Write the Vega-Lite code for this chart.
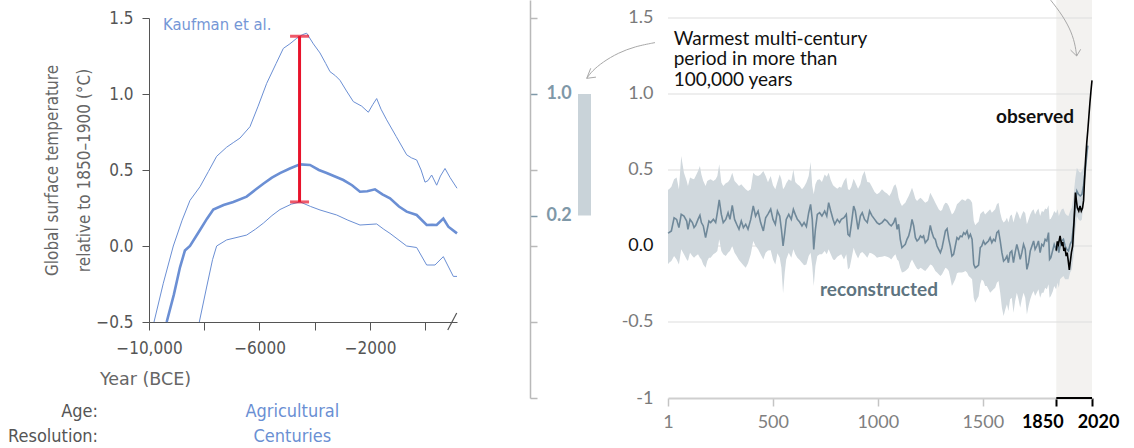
{
"$schema": "https://vega.github.io/schema/vega-lite/v6.json",
"width": 1134, "height": 448,
"autosize": {"type": "none"},
"padding": 0,
"background": "white",
"config": {"view": {"stroke": null}, "axis": {"grid": false}},
"datasets": {
"upper": [{"yr":-9819,"t":-0.5},{"yr":-9482,"t":-0.245},{"yr":-9120,"t":0.0},{"yr":-8800,"t":0.17},{"yr":-8516,"t":0.30},{"yr":-8154,"t":0.39},{"yr":-7850,"t":0.49},{"yr":-7551,"t":0.59},{"yr":-7189,"t":0.65},{"yr":-6950,"t":0.68},{"yr":-6706,"t":0.71},{"yr":-6344,"t":0.785},{"yr":-6050,"t":0.92},{"yr":-5740,"t":1.07},{"yr":-5400,"t":1.2},{"yr":-5137,"t":1.30},{"yr":-4900,"t":1.33},{"yr":-4655,"t":1.366},{"yr":-4450,"t":1.39},{"yr":-4293,"t":1.40},{"yr":-4050,"t":1.33},{"yr":-3810,"t":1.27},{"yr":-3600,"t":1.2},{"yr":-3448,"t":1.147},{"yr":-3250,"t":1.12},{"yr":-3086,"t":1.09},{"yr":-2850,"t":1.02},{"yr":-2603,"t":0.95},{"yr":-2300,"t":0.92},{"yr":-2060,"t":0.88},{"yr":-1900,"t":0.93},{"yr":-1758,"t":0.97},{"yr":-1600,"t":0.9},{"yr":-1396,"t":0.83},{"yr":-1050,"t":0.72},{"yr":-672,"t":0.60},{"yr":-500,"t":0.58},{"yr":-310,"t":0.566},{"yr":-150,"t":0.5},{"yr":-8,"t":0.42},{"yr":100,"t":0.43},{"yr":233,"t":0.467},{"yr":414,"t":0.40},{"yr":550,"t":0.46},{"yr":716,"t":0.51},{"yr":900,"t":0.45},{"yr":1150,"t":0.38}],
"mean": [{"yr":-9360,"t":-0.5},{"yr":-9100,"t":-0.32},{"yr":-8878,"t":-0.14},{"yr":-8700,"t":-0.03},{"yr":-8516,"t":0.0},{"yr":-8154,"t":0.105},{"yr":-7900,"t":0.18},{"yr":-7672,"t":0.24},{"yr":-7300,"t":0.27},{"yr":-6948,"t":0.29},{"yr":-6465,"t":0.325},{"yr":-6150,"t":0.37},{"yr":-5862,"t":0.41},{"yr":-5550,"t":0.45},{"yr":-5258,"t":0.48},{"yr":-4900,"t":0.51},{"yr":-4534,"t":0.537},{"yr":-4172,"t":0.533},{"yr":-3850,"t":0.5},{"yr":-3568,"t":0.48},{"yr":-2965,"t":0.434},{"yr":-2650,"t":0.4},{"yr":-2362,"t":0.357},{"yr":-2100,"t":0.36},{"yr":-1819,"t":0.373},{"yr":-1550,"t":0.34},{"yr":-1276,"t":0.314},{"yr":-950,"t":0.26},{"yr":-672,"t":0.226},{"yr":-310,"t":0.204},{"yr":52,"t":0.138},{"yr":250,"t":0.14},{"yr":414,"t":0.138},{"yr":655,"t":0.18},{"yr":836,"t":0.127},{"yr":1150,"t":0.083}],
"lower": [{"yr":-8179,"t":-0.5},{"yr":-7913,"t":-0.27},{"yr":-7700,"t":-0.09},{"yr":-7551,"t":0.0},{"yr":-7189,"t":0.04},{"yr":-6465,"t":0.072},{"yr":-6150,"t":0.11},{"yr":-5862,"t":0.15},{"yr":-5550,"t":0.2},{"yr":-5258,"t":0.24},{"yr":-4850,"t":0.275},{"yr":-4534,"t":0.29},{"yr":-4150,"t":0.26},{"yr":-3810,"t":0.237},{"yr":-3206,"t":0.204},{"yr":-2800,"t":0.17},{"yr":-2362,"t":0.138},{"yr":-1758,"t":0.145},{"yr":-1500,"t":0.11},{"yr":-1276,"t":0.083},{"yr":-672,"t":0.0},{"yr":-310,"t":-0.01},{"yr":52,"t":-0.125},{"yr":353,"t":-0.125},{"yr":655,"t":-0.07},{"yr":1017,"t":-0.2},{"yr":1150,"t":-0.2}],
"recon": [{"yr":1,"m":0.085,"lo":-0.12,"hi":0.37},{"yr":6,"m":0.088,"lo":-0.110,"hi":0.373},{"yr":17,"m":0.099,"lo":-0.099,"hi":0.390},{"yr":30,"m":0.186,"lo":-0.066,"hi":0.439},{"yr":42,"m":0.175,"lo":-0.088,"hi":0.450},{"yr":53,"m":0.121,"lo":-0.121,"hi":0.373},{"yr":64,"m":0.208,"lo":-0.022,"hi":0.592},{"yr":77,"m":0.197,"lo":-0.055,"hi":0.482},{"yr":90,"m":0.164,"lo":-0.088,"hi":0.428},{"yr":96,"m":0.110,"lo":-0.099,"hi":0.395},{"yr":106,"m":0.175,"lo":-0.044,"hi":0.450},{"yr":117,"m":0.154,"lo":-0.066,"hi":0.443},{"yr":125,"m":0.121,"lo":-0.077,"hi":0.439},{"yr":133,"m":0.136,"lo":-0.066,"hi":0.461},{"yr":144,"m":0.175,"lo":-0.055,"hi":0.493},{"yr":153,"m":0.202,"lo":-0.077,"hi":0.526},{"yr":160,"m":0.154,"lo":-0.088,"hi":0.471},{"yr":169,"m":0.132,"lo":-0.121,"hi":0.428},{"yr":180,"m":0.055,"lo":-0.143,"hi":0.395},{"yr":188,"m":0.110,"lo":-0.099,"hi":0.428},{"yr":196,"m":0.164,"lo":-0.077,"hi":0.434},{"yr":204,"m":0.154,"lo":-0.077,"hi":0.439},{"yr":217,"m":0.175,"lo":-0.055,"hi":0.428},{"yr":228,"m":0.154,"lo":-0.044,"hi":0.439},{"yr":236,"m":0.219,"lo":-0.033,"hi":0.461},{"yr":245,"m":0.303,"lo":0.044,"hi":0.537},{"yr":255,"m":0.208,"lo":-0.033,"hi":0.417},{"yr":264,"m":0.154,"lo":-0.055,"hi":0.395},{"yr":276,"m":0.175,"lo":-0.066,"hi":0.412},{"yr":287,"m":0.219,"lo":-0.044,"hi":0.421},{"yr":296,"m":0.175,"lo":-0.033,"hi":0.439},{"yr":307,"m":0.268,"lo":0.0,"hi":0.482},{"yr":318,"m":0.175,"lo":-0.044,"hi":0.428},{"yr":328,"m":0.143,"lo":-0.066,"hi":0.412},{"yr":339,"m":0.110,"lo":-0.092,"hi":0.395},{"yr":350,"m":0.164,"lo":-0.110,"hi":0.406},{"yr":360,"m":0.121,"lo":-0.127,"hi":0.390},{"yr":371,"m":0.143,"lo":-0.143,"hi":0.373},{"yr":382,"m":0.110,"lo":-0.114,"hi":0.362},{"yr":395,"m":0.175,"lo":-0.055,"hi":0.373},{"yr":407,"m":0.263,"lo":0.033,"hi":0.482},{"yr":418,"m":0.197,"lo":0.0,"hi":0.465},{"yr":430,"m":0.230,"lo":-0.022,"hi":0.461},{"yr":442,"m":0.154,"lo":-0.055,"hi":0.471},{"yr":455,"m":0.099,"lo":-0.088,"hi":0.493},{"yr":466,"m":0.186,"lo":-0.044,"hi":0.461},{"yr":477,"m":0.21,"lo":-0.03,"hi":0.42},{"yr":490,"m":0.243,"lo":-0.028,"hi":0.46},{"yr":501,"m":0.175,"lo":-0.088,"hi":0.399},{"yr":512,"m":0.143,"lo":-0.121,"hi":0.373},{"yr":522,"m":0.230,"lo":-0.048,"hi":0.421},{"yr":533,"m":0.197,"lo":-0.077,"hi":0.471},{"yr":541,"m":0.110,"lo":-0.143,"hi":0.439},{"yr":549,"m":0.0,"lo":-0.311,"hi":0.373},{"yr":557,"m":0.088,"lo":-0.175,"hi":0.39},{"yr":564,"m":0.175,"lo":-0.088,"hi":0.412},{"yr":576,"m":0.208,"lo":-0.044,"hi":0.439},{"yr":588,"m":0.175,"lo":-0.077,"hi":0.428},{"yr":598,"m":0.241,"lo":-0.022,"hi":0.504},{"yr":607,"m":0.208,"lo":-0.055,"hi":0.421},{"yr":617,"m":0.175,"lo":-0.077,"hi":0.406},{"yr":628,"m":0.158,"lo":-0.092,"hi":0.395},{"yr":639,"m":0.132,"lo":-0.11,"hi":0.373},{"yr":649,"m":0.154,"lo":-0.127,"hi":0.39},{"yr":660,"m":0.127,"lo":-0.121,"hi":0.417},{"yr":671,"m":0.219,"lo":-0.066,"hi":0.461},{"yr":680,"m":0.274,"lo":-0.044,"hi":0.553},{"yr":688,"m":0.175,"lo":-0.132,"hi":0.395},{"yr":695,"m":-0.022,"lo":-0.263,"hi":0.34},{"yr":703,"m":0.110,"lo":-0.132,"hi":0.406},{"yr":712,"m":0.208,"lo":-0.066,"hi":0.434},{"yr":723,"m":0.219,"lo":-0.055,"hi":0.439},{"yr":734,"m":0.197,"lo":-0.055,"hi":0.421},{"yr":747,"m":0.230,"lo":-0.033,"hi":0.471},{"yr":757,"m":0.197,"lo":-0.055,"hi":0.456},{"yr":766,"m":0.285,"lo":-0.022,"hi":0.482},{"yr":776,"m":0.230,"lo":-0.055,"hi":0.434},{"yr":787,"m":0.175,"lo":-0.088,"hi":0.399},{"yr":795,"m":0.143,"lo":-0.092,"hi":0.39},{"yr":807,"m":0.175,"lo":-0.07,"hi":0.377},{"yr":818,"m":0.154,"lo":-0.061,"hi":0.39},{"yr":826,"m":0.175,"lo":-0.055,"hi":0.384},{"yr":839,"m":0.186,"lo":-0.088,"hi":0.428},{"yr":850,"m":0.208,"lo":-0.055,"hi":0.45},{"yr":858,"m":0.077,"lo":-0.154,"hi":0.373},{"yr":866,"m":0.066,"lo":-0.143,"hi":0.368},{"yr":874,"m":0.143,"lo":-0.088,"hi":0.39},{"yr":885,"m":0.263,"lo":-0.011,"hi":0.443},{"yr":893,"m":0.230,"lo":-0.044,"hi":0.417},{"yr":906,"m":0.110,"lo":-0.083,"hi":0.377},{"yr":917,"m":0.197,"lo":-0.048,"hi":0.406},{"yr":926,"m":0.219,"lo":-0.039,"hi":0.461},{"yr":937,"m":0.175,"lo":-0.055,"hi":0.493},{"yr":950,"m":0.154,"lo":-0.077,"hi":0.421},{"yr":961,"m":0.230,"lo":-0.044,"hi":0.417},{"yr":972,"m":0.20,"lo":-0.05,"hi":0.39},{"yr":985,"m":0.175,"lo":-0.061,"hi":0.355},{"yr":996,"m":0.154,"lo":-0.077,"hi":0.34},{"yr":1007,"m":0.143,"lo":-0.072,"hi":0.351},{"yr":1020,"m":0.154,"lo":-0.07,"hi":0.373},{"yr":1033,"m":0.175,"lo":-0.066,"hi":0.355},{"yr":1044,"m":0.164,"lo":-0.07,"hi":0.346},{"yr":1055,"m":0.143,"lo":-0.077,"hi":0.329},{"yr":1064,"m":0.132,"lo":-0.088,"hi":0.351},{"yr":1076,"m":0.154,"lo":-0.066,"hi":0.395},{"yr":1084,"m":0.186,"lo":-0.055,"hi":0.406},{"yr":1092,"m":0.110,"lo":-0.088,"hi":0.373},{"yr":1099,"m":0.143,"lo":-0.099,"hi":0.318},{"yr":1107,"m":0.044,"lo":-0.143,"hi":0.285},{"yr":1115,"m":-0.011,"lo":-0.175,"hi":0.263},{"yr":1123,"m":0.0,"lo":-0.171,"hi":0.274},{"yr":1131,"m":0.011,"lo":-0.164,"hi":0.285},{"yr":1139,"m":0.044,"lo":-0.154,"hi":0.307},{"yr":1147,"m":0.066,"lo":-0.143,"hi":0.329},{"yr":1155,"m":0.110,"lo":-0.11,"hi":0.355},{"yr":1163,"m":0.175,"lo":-0.088,"hi":0.384},{"yr":1171,"m":0.132,"lo":-0.11,"hi":0.351},{"yr":1179,"m":0.055,"lo":-0.132,"hi":0.311},{"yr":1187,"m":0.033,"lo":-0.149,"hi":0.296},{"yr":1195,"m":0.044,"lo":-0.154,"hi":0.307},{"yr":1203,"m":0.066,"lo":-0.143,"hi":0.318},{"yr":1211,"m":0.055,"lo":-0.149,"hi":0.307},{"yr":1218,"m":0.066,"lo":-0.158,"hi":0.296},{"yr":1226,"m":0.022,"lo":-0.164,"hi":0.285},{"yr":1239,"m":0.044,"lo":-0.143,"hi":0.296},{"yr":1250,"m":0.136,"lo":-0.121,"hi":0.351},{"yr":1258,"m":0.088,"lo":-0.127,"hi":0.329},{"yr":1266,"m":0.055,"lo":-0.143,"hi":0.307},{"yr":1274,"m":0.044,"lo":-0.164,"hi":0.285},{"yr":1282,"m":0.0,"lo":-0.175,"hi":0.263},{"yr":1290,"m":-0.022,"lo":-0.186,"hi":0.241},{"yr":1298,"m":-0.044,"lo":-0.197,"hi":0.23},{"yr":1306,"m":-0.011,"lo":-0.186,"hi":0.237},{"yr":1314,"m":0.044,"lo":-0.164,"hi":0.268},{"yr":1322,"m":0.099,"lo":-0.143,"hi":0.285},{"yr":1330,"m":0.114,"lo":-0.149,"hi":0.281},{"yr":1338,"m":0.044,"lo":-0.164,"hi":0.263},{"yr":1345,"m":0.0,"lo":-0.208,"hi":0.237},{"yr":1353,"m":-0.066,"lo":-0.263,"hi":0.208},{"yr":1361,"m":-0.055,"lo":-0.241,"hi":0.219},{"yr":1369,"m":0.0,"lo":-0.219,"hi":0.241},{"yr":1377,"m":0.055,"lo":-0.18,"hi":0.274},{"yr":1385,"m":0.044,"lo":-0.175,"hi":0.285},{"yr":1393,"m":0.066,"lo":-0.175,"hi":0.296},{"yr":1401,"m":0.061,"lo":-0.175,"hi":0.307},{"yr":1409,"m":0.088,"lo":-0.171,"hi":0.303},{"yr":1417,"m":0.077,"lo":-0.164,"hi":0.296},{"yr":1425,"m":0.099,"lo":-0.175,"hi":0.311},{"yr":1433,"m":0.055,"lo":-0.197,"hi":0.311},{"yr":1441,"m":0.077,"lo":-0.208,"hi":0.303},{"yr":1449,"m":0.044,"lo":-0.219,"hi":0.285},{"yr":1457,"m":-0.121,"lo":-0.34,"hi":0.164},{"yr":1464,"m":-0.143,"lo":-0.373,"hi":0.136},{"yr":1472,"m":-0.135,"lo":-0.35,"hi":0.15},{"yr":1480,"m":-0.125,"lo":-0.33,"hi":0.16},{"yr":1488,"m":-0.01,"lo":-0.25,"hi":0.21},{"yr":1495,"m":0.0,"lo":-0.22,"hi":0.22},{"yr":1503,"m":0.033,"lo":-0.23,"hi":0.23},{"yr":1511,"m":0.011,"lo":-0.263,"hi":0.208},{"yr":1519,"m":0.022,"lo":-0.263,"hi":0.219},{"yr":1527,"m":0.033,"lo":-0.285,"hi":0.23},{"yr":1535,"m":0.055,"lo":-0.307,"hi":0.241},{"yr":1543,"m":0.022,"lo":-0.296,"hi":0.219},{"yr":1551,"m":0.044,"lo":-0.285,"hi":0.23},{"yr":1559,"m":0.033,"lo":-0.274,"hi":0.241},{"yr":1567,"m":0.088,"lo":-0.241,"hi":0.274},{"yr":1575,"m":0.099,"lo":-0.23,"hi":0.285},{"yr":1583,"m":0.033,"lo":-0.307,"hi":0.219},{"yr":1591,"m":-0.044,"lo":-0.406,"hi":0.175},{"yr":1599,"m":-0.099,"lo":-0.461,"hi":0.154},{"yr":1607,"m":-0.088,"lo":-0.417,"hi":0.164},{"yr":1615,"m":-0.066,"lo":-0.384,"hi":0.186},{"yr":1622,"m":-0.11,"lo":-0.428,"hi":0.154},{"yr":1630,"m":-0.044,"lo":-0.351,"hi":0.197},{"yr":1638,"m":-0.033,"lo":-0.34,"hi":0.208},{"yr":1646,"m":-0.11,"lo":-0.439,"hi":0.154},{"yr":1654,"m":-0.044,"lo":-0.362,"hi":0.197},{"yr":1662,"m":0.011,"lo":-0.307,"hi":0.23},{"yr":1670,"m":-0.033,"lo":-0.351,"hi":0.208},{"yr":1678,"m":-0.088,"lo":-0.406,"hi":0.175},{"yr":1686,"m":-0.044,"lo":-0.351,"hi":0.208},{"yr":1694,"m":0.011,"lo":-0.307,"hi":0.23},{"yr":1702,"m":-0.022,"lo":-0.34,"hi":0.215},{"yr":1710,"m":-0.154,"lo":-0.45,"hi":0.143},{"yr":1718,"m":-0.11,"lo":-0.395,"hi":0.175},{"yr":1726,"m":-0.033,"lo":-0.351,"hi":0.208},{"yr":1734,"m":0.0,"lo":-0.318,"hi":0.23},{"yr":1742,"m":0.033,"lo":-0.296,"hi":0.241},{"yr":1749,"m":-0.022,"lo":-0.329,"hi":0.208},{"yr":1757,"m":0.0,"lo":-0.307,"hi":0.23},{"yr":1765,"m":0.033,"lo":-0.285,"hi":0.246},{"yr":1773,"m":-0.044,"lo":-0.34,"hi":0.197},{"yr":1781,"m":0.011,"lo":-0.307,"hi":0.23},{"yr":1789,"m":0.0,"lo":-0.307,"hi":0.224},{"yr":1797,"m":0.044,"lo":-0.274,"hi":0.246},{"yr":1805,"m":0.033,"lo":-0.285,"hi":0.241},{"yr":1813,"m":0.088,"lo":-0.252,"hi":0.268},{"yr":1818,"m":-0.088,"lo":-0.34,"hi":0.175},{"yr":1824,"m":-0.077,"lo":-0.329,"hi":0.18},{"yr":1834,"m":-0.022,"lo":-0.296,"hi":0.208},{"yr":1840,"m":0.011,"lo":-0.263,"hi":0.23},{"yr":1849,"m":-0.022,"lo":-0.285,"hi":0.215},{"yr":1856,"m":0.022,"lo":-0.241,"hi":0.241},{"yr":1862,"m":-0.044,"lo":-0.274,"hi":0.197},{"yr":1868,"m":0.0,"lo":-0.219,"hi":0.219},{"yr":1876,"m":0.033,"lo":-0.208,"hi":0.241},{"yr":1884,"m":0.044,"lo":-0.197,"hi":0.246},{"yr":1892,"m":0.0,"lo":-0.219,"hi":0.215},{"yr":1900,"m":-0.022,"lo":-0.219,"hi":0.202},{"yr":1908,"m":-0.033,"lo":-0.219,"hi":0.197},{"yr":1916,"m":0.011,"lo":-0.175,"hi":0.23},{"yr":1924,"m":0.033,"lo":-0.154,"hi":0.252},{"yr":1932,"m":0.132,"lo":-0.066,"hi":0.329},{"yr":1940,"m":0.263,"lo":0.088,"hi":0.439},{"yr":1948,"m":0.362,"lo":0.197,"hi":0.515},{"yr":1956,"m":0.340,"lo":0.175,"hi":0.493},{"yr":1964,"m":0.329,"lo":0.164,"hi":0.482},{"yr":1972,"m":0.340,"lo":0.175,"hi":0.493},{"yr":1980,"m":0.40,"lo":0.30,"hi":0.52},{"yr":1988,"m":0.50,"lo":0.42,"hi":0.58},{"yr":1995,"m":0.60,"lo":0.54,"hi":0.66},{"yr":2000,"m":0.66,"lo":0.62,"hi":0.70}],
"obs": [{"yr":1850,"t":-0.03},{"yr":1855,"t":0.03},{"yr":1860,"t":0.01},{"yr":1865,"t":0.045},{"yr":1868,"t":0.066},{"yr":1873,"t":0.026},{"yr":1878,"t":0.0},{"yr":1881,"t":0.026},{"yr":1886,"t":-0.033},{"yr":1891,"t":-0.011},{"yr":1897,"t":-0.066},{"yr":1902,"t":-0.044},{"yr":1907,"t":-0.099},{"yr":1912,"t":-0.158},{"yr":1917,"t":-0.099},{"yr":1922,"t":-0.044},{"yr":1928,"t":0.0},{"yr":1935,"t":0.175},{"yr":1941,"t":0.351},{"yr":1946,"t":0.296},{"yr":1950,"t":0.252},{"yr":1957,"t":0.230},{"yr":1963,"t":0.263},{"yr":1969,"t":0.230},{"yr":1975,"t":0.25},{"yr":1980,"t":0.30},{"yr":1985,"t":0.45},{"yr":1990,"t":0.58},{"yr":1995,"t":0.68},{"yr":2000,"t":0.76},{"yr":2005,"t":0.85},{"yr":2010,"t":0.94},{"yr":2015,"t":1.02},{"yr":2020,"t":1.09}]
},
"resolve": {"scale": {"x": "independent", "y": "independent"}, "axis": {"x": "independent", "y": "independent"}},
"layer": [
{
"data": {"values": [{"a": 1850, "b": 2020}]},
"mark": {"type": "rect", "fill": "#f3f2f0"},
"encoding": {
"x": {"field": "a", "type": "quantitative", "scale": {"domain": [1, 2020], "range": [668, 1092], "nice": false, "zero": false}, "axis": null},
"x2": {"field": "b"},
"y": {"datum": -1, "type": "quantitative", "scale": {"domain": [-1, 1.6184], "range": [398, 0], "nice": false, "zero": false}, "axis": null},
"y2": {"datum": 1.6184}
}
},
{
"data": {"values": [{"g": -0.5}, {"g": 0}, {"g": 0.5}, {"g": 1}, {"g": 1.5}]},
"mark": {"type": "rule", "color": "#dedede", "strokeWidth": 1.2},
"encoding": {
"y": {"field": "g", "type": "quantitative", "scale": {"domain": [-1, 1.6184], "range": [398, 0], "nice": false, "zero": false}, "axis": null},
"x": {"datum": 1, "type": "quantitative", "scale": {"domain": [1, 2020], "range": [668, 1092], "nice": false, "zero": false}, "axis": null},
"x2": {"datum": 2020}
}
},
{
"data": {"name": "recon"},
"mark": {"type": "area", "fill": "#d0d8dd", "opacity": 1},
"encoding": {
"x": {"field": "yr", "type": "quantitative", "scale": {"domain": [1, 2020], "range": [668, 1092], "nice": false, "zero": false},
"axis": {"orient": "bottom", "offset": -50, "values": [1,500,1000,1500,1850,2020], "format": "d", "domainColor": "#cfcfcf", "domainWidth": 2, "tickColor": {"condition": {"test": "datum.value >= 1850", "value": "#000000"}, "value": "#c4c4c4"}, "tickWidth": {"condition": {"test": "datum.value >= 1850", "value": 2}, "value": 1.5}, "tickSize": 8, "labelPadding": 7, "labelFont": "Lato", "labelFontSize": 18, "labelColor": {"condition": {"test": "datum.value >= 1850", "value": "#000000"}, "value": "#808080"}, "labelFontWeight": {"condition": {"test": "datum.value >= 1850", "value": "bold"}, "value": "normal"}, "labelOffset": {"condition": [{"test": "datum.value === 1850", "value": -14}, {"test": "datum.value === 2020", "value": 6}], "value": 0}, "labelFlush": false, "labelOverlap": false, "title": null}},
"y": {"field": "lo", "type": "quantitative", "scale": {"domain": [-1, 1.6184], "range": [398, 0], "nice": false, "zero": false},
"axis": {"orient": "left", "offset": -668, "values": [-1,-0.5,0,0.5,1,1.5], "labelExpr": "datum.value === -1 ? '-1' : datum.value === -0.5 ? '-0.5' : format(datum.value, '.1f')", "domain": false, "ticks": false, "labelPadding": 15, "labelFont": "Lato", "labelFontSize": 18, "labelColor": {"condition": {"test": "datum.value === 0", "value": "#111111"}, "value": "#7a7a7a"}, "title": null}},
"y2": {"field": "hi"}
}
},
{
"data": {"name": "recon"},
"mark": {"type": "line", "color": "#6f8899", "strokeWidth": 1.6},
"encoding": {
"x": {"field": "yr", "type": "quantitative", "scale": {"domain": [1, 2020], "range": [668, 1092], "nice": false, "zero": false}, "axis": null},
"y": {"field": "m", "type": "quantitative", "scale": {"domain": [-1, 1.6184], "range": [398, 0], "nice": false, "zero": false}, "axis": null}
}
},
{
"data": {"name": "obs"},
"mark": {"type": "line", "color": "#000000", "strokeWidth": 1.6},
"encoding": {
"x": {"field": "yr", "type": "quantitative", "scale": {"domain": [1, 2020], "range": [668, 1092], "nice": false, "zero": false}, "axis": null},
"y": {"field": "t", "type": "quantitative", "scale": {"domain": [-1, 1.6184], "range": [398, 0], "nice": false, "zero": false}, "axis": null}
}
},
{
"data": {"values": [{"a": 1850, "b": 2020, "v": -1}]},
"mark": {"type": "rule", "color": "#000000", "strokeWidth": 2},
"encoding": {
"x": {"field": "a", "type": "quantitative", "scale": {"domain": [1, 2020], "range": [668, 1092], "nice": false, "zero": false}, "axis": null},
"x2": {"field": "b"},
"y": {"field": "v", "type": "quantitative", "scale": {"domain": [-1, 1.6184], "range": [398, 0], "nice": false, "zero": false}, "axis": null}
}
},
{
"data": {"values": [{"id": "a", "o": 1, "x": -61, "y": 1.338}, {"id": "a", "o": 2, "x": -156, "y": 1.313}, {"id": "a", "o": 3, "x": -237, "y": 1.27}, {"id": "a", "o": 4, "x": -309, "y": 1.211}, {"id": "a", "o": 5, "x": -361, "y": 1.151}, {"id": "a", "o": 6, "x": -386, "y": 1.103}, {"id": "b", "o": 1, "x": 1804, "y": 1.65}, {"id": "b", "o": 2, "x": 1868, "y": 1.541}, {"id": "b", "o": 3, "x": 1915, "y": 1.432}, {"id": "b", "o": 4, "x": 1939, "y": 1.334}, {"id": "b", "o": 5, "x": 1947, "y": 1.25}]},
"mark": {"type": "line", "color": "#a8a8a8", "strokeWidth": 1, "interpolate": "basis"},
"encoding": {
"x": {"field": "x", "type": "quantitative", "scale": {"domain": [1, 2020], "range": [668, 1092], "nice": false, "zero": false}, "axis": null},
"y": {"field": "y", "type": "quantitative", "scale": {"domain": [-1, 1.6184], "range": [398, 0], "nice": false, "zero": false}, "axis": null},
"detail": {"field": "id"},
"order": {"field": "o"}
}
},
{
"data": {"values": [{"x0": -386, "y0": 1.103, "x1": -367, "y1": 1.169}, {"x0": -386, "y0": 1.103, "x1": -342, "y1": 1.111}, {"x0": 1947, "y0": 1.25, "x1": 1918, "y1": 1.289}, {"x0": 1947, "y0": 1.25, "x1": 1966, "y1": 1.294}]},
"mark": {"type": "rule", "color": "#a8a8a8", "strokeWidth": 1},
"encoding": {
"x": {"field": "x0", "type": "quantitative", "scale": {"domain": [1, 2020], "range": [668, 1092], "nice": false, "zero": false}, "axis": null},
"y": {"field": "y0", "type": "quantitative", "scale": {"domain": [-1, 1.6184], "range": [398, 0], "nice": false, "zero": false}, "axis": null},
"x2": {"field": "x1"},
"y2": {"field": "y1"}
}
},
{
"data": {"values": [{"x": 28, "y": 1.360, "label": "Warmest multi-century"}, {"x": 28, "y": 1.228, "label": "period in more than"}, {"x": 28, "y": 1.092, "label": "100,000 years"}]},
"mark": {"type": "text", "align": "left", "baseline": "middle", "font": "Lato", "fontSize": 19, "color": "#111111"},
"encoding": {
"x": {"field": "x", "type": "quantitative", "scale": {"domain": [1, 2020], "range": [668, 1092], "nice": false, "zero": false}, "axis": null},
"y": {"field": "y", "type": "quantitative", "scale": {"domain": [-1, 1.6184], "range": [398, 0], "nice": false, "zero": false}, "axis": null},
"text": {"field": "label"}
}
},
{
"data": {"values": [{"x": 1934, "y": 0.847, "label": "observed"}]},
"mark": {"type": "text", "align": "right", "baseline": "middle", "font": "Lato", "fontSize": 19, "fontWeight": "bold", "color": "#111111"},
"encoding": {
"x": {"field": "x", "type": "quantitative", "scale": {"domain": [1, 2020], "range": [668, 1092], "nice": false, "zero": false}, "axis": null},
"y": {"field": "y", "type": "quantitative", "scale": {"domain": [-1, 1.6184], "range": [398, 0], "nice": false, "zero": false}, "axis": null},
"text": {"field": "label"}
}
},
{
"data": {"values": [{"x": 725, "y": -0.289, "label": "reconstructed"}]},
"mark": {"type": "text", "align": "left", "baseline": "middle", "font": "Lato", "fontSize": 19, "fontWeight": "bold", "color": "#5e7480"},
"encoding": {
"x": {"field": "x", "type": "quantitative", "scale": {"domain": [1, 2020], "range": [668, 1092], "nice": false, "zero": false}, "axis": null},
"y": {"field": "y", "type": "quantitative", "scale": {"domain": [-1, 1.6184], "range": [398, 0], "nice": false, "zero": false}, "axis": null},
"text": {"field": "label"}
}
},
{
"data": {"values": [{"c": "range", "lo": 0.2, "hi": 1.0}]},
"mark": {"type": "bar", "fill": "#c9d3d9"},
"encoding": {
"x": {"field": "c", "type": "nominal", "scale": {"range": [578, 591], "paddingInner": 0, "paddingOuter": 0}, "axis": null},
"y": {"field": "lo", "type": "quantitative", "scale": {"domain": [-1, 1.6184], "range": [398, 0], "nice": false, "zero": false},
"axis": {"orient": "right", "offset": -604, "values": [-1,-0.5,0,0.2,0.5,1,1.5], "labelExpr": "datum.value === 1 ? '1.0' : datum.value === 0.2 ? '0.2' : ''", "domainColor": "#b9b9b9", "domainWidth": 1.5, "tickColor": {"condition": {"test": "datum.value === 1 || datum.value === 0.2", "value": "#7f98a8"}, "value": "#b9b9b9"}, "tickWidth": 1.5, "tickSize": 7, "labelPadding": 9, "labelFont": "Lato", "labelFontSize": 18, "labelFontWeight": "bold", "labelColor": "#7f98a8", "title": null}},
"y2": {"field": "hi"}
}
},
{
"data": {"name": "upper"},
"mark": {"type": "line", "color": "#6b8fd4", "strokeWidth": 1},
"encoding": {
"x": {"field": "yr", "type": "quantitative", "scale": {"domain": [-10000, 1150], "range": [149, 457], "nice": false, "zero": false},
"axis": {"orient": "bottom", "offset": -126, "values": [-10000,-8000,-6000,-4000,-2000,0], "labelExpr": "datum.value === -10000 ? '−10,000' : datum.value === -6000 ? '−6000' : datum.value === -2000 ? '−2000' : ''", "domainColor": "#555555", "tickColor": "#555555", "tickSize": 8, "labelPadding": 10, "labelFont": "Liberation Sans Narrow, DejaVu Sans Condensed, sans-serif", "labelFontSize": 17, "labelColor": "#555555", "labelFlush": false, "labelOverlap": false, "title": "Year (BCE)", "titleFont": "DejaVu Sans", "titleFontSize": 17.5, "titleFontWeight": "normal", "titleColor": "#666666", "titleX": 145, "titleY": 57, "titleAlign": "center", "titleBaseline": "middle"}},
"y": {"field": "t", "type": "quantitative", "scale": {"domain": [-0.5, 1.5], "range": [322, 18], "nice": false, "zero": false},
"axis": {"orient": "left", "offset": -149, "values": [-0.5,0,0.5,1,1.5], "format": ".1f", "domainColor": "#555555", "tickColor": "#555555", "tickSize": 7, "labelPadding": 9, "labelFont": "Liberation Sans Narrow, DejaVu Sans Condensed, sans-serif", "labelFontSize": 17, "labelColor": "#555555", "title": ["Global surface temperature", "relative to 1850–1900 (°C)"], "titleFont": "Liberation Sans Narrow, DejaVu Sans Condensed, sans-serif", "titleFontSize": 17, "titleFontWeight": "normal", "titleColor": "#666666", "titlePadding": 2, "titleLineHeight": 32}}
}
},
{
"data": {"name": "mean"},
"mark": {"type": "line", "color": "#6b8fd4", "strokeWidth": 2.6},
"encoding": {
"x": {"field": "yr", "type": "quantitative", "scale": {"domain": [-10000, 1150], "range": [149, 457], "nice": false, "zero": false}, "axis": null},
"y": {"field": "t", "type": "quantitative", "scale": {"domain": [-0.5, 1.5], "range": [322, 18], "nice": false, "zero": false}, "axis": null}
}
},
{
"data": {"name": "lower"},
"mark": {"type": "line", "color": "#6b8fd4", "strokeWidth": 1},
"encoding": {
"x": {"field": "yr", "type": "quantitative", "scale": {"domain": [-10000, 1150], "range": [149, 457], "nice": false, "zero": false}, "axis": null},
"y": {"field": "t", "type": "quantitative", "scale": {"domain": [-0.5, 1.5], "range": [322, 18], "nice": false, "zero": false}, "axis": null}
}
},
{
"data": {"values": [{"yr": -4550, "lo": 0.29, "hi": 1.38}]},
"mark": {"type": "rule", "color": "#e8132b", "strokeWidth": 3},
"encoding": {
"x": {"field": "yr", "type": "quantitative", "scale": {"domain": [-10000, 1150], "range": [149, 457], "nice": false, "zero": false}, "axis": null},
"y": {"field": "lo", "type": "quantitative", "scale": {"domain": [-0.5, 1.5], "range": [322, 18], "nice": false, "zero": false}, "axis": null},
"y2": {"field": "hi"}
}
},
{
"data": {"values": [{"yr": -4550, "v": 0.29}, {"yr": -4550, "v": 1.38}]},
"mark": {"type": "tick", "orient": "horizontal", "color": "#e8132b", "size": 19, "thickness": 3},
"encoding": {
"x": {"field": "yr", "type": "quantitative", "scale": {"domain": [-10000, 1150], "range": [149, 457], "nice": false, "zero": false}, "axis": null},
"y": {"field": "v", "type": "quantitative", "scale": {"domain": [-0.5, 1.5], "range": [322, 18], "nice": false, "zero": false}, "axis": null}
}
},
{
"data": {"values": [{"x0": 815, "y0": -0.553, "x1": 1140, "y1": -0.441}]},
"mark": {"type": "rule", "color": "#555555", "strokeWidth": 1.2},
"encoding": {
"x": {"field": "x0", "type": "quantitative", "scale": {"domain": [-10000, 1150], "range": [149, 457], "nice": false, "zero": false}, "axis": null},
"y": {"field": "y0", "type": "quantitative", "scale": {"domain": [-0.5, 1.5], "range": [322, 18], "nice": false, "zero": false}, "axis": null},
"x2": {"field": "x1"},
"y2": {"field": "y1"}
}
},
{
"data": {"values": [{"x": -9494, "y": 1.454, "label": "Kaufman et al."}]},
"mark": {"type": "text", "align": "left", "baseline": "middle", "font": "Liberation Sans Narrow, DejaVu Sans Condensed, sans-serif", "fontSize": 16.5, "color": "#7597d6"},
"encoding": {
"x": {"field": "x", "type": "quantitative", "scale": {"domain": [-10000, 1150], "range": [149, 457], "nice": false, "zero": false}, "axis": null},
"y": {"field": "y", "type": "quantitative", "scale": {"domain": [-0.5, 1.5], "range": [322, 18], "nice": false, "zero": false}, "axis": null},
"text": {"field": "label"}
}
},
{
"data": {"values": [{"x": -11845, "y": -1.092, "label": "Age:"}, {"x": -11845, "y": -1.257, "label": "Resolution:"}]},
"mark": {"type": "text", "align": "right", "baseline": "middle", "font": "Liberation Sans Narrow, DejaVu Sans Condensed, sans-serif", "fontSize": 18, "color": "#555555"},
"encoding": {
"x": {"field": "x", "type": "quantitative", "scale": {"domain": [-10000, 1150], "range": [149, 457], "nice": false, "zero": false}, "axis": null},
"y": {"field": "y", "type": "quantitative", "scale": {"domain": [-0.5, 1.5], "range": [322, 18], "nice": false, "zero": false}, "axis": null},
"text": {"field": "label"}
}
},
{
"data": {"values": [{"x": -4810, "y": -1.092, "label": "Agricultural"}, {"x": -4810, "y": -1.257, "label": "Centuries"}]},
"mark": {"type": "text", "align": "center", "baseline": "middle", "font": "Liberation Sans Narrow, DejaVu Sans Condensed, sans-serif", "fontSize": 18, "color": "#6a8fd3"},
"encoding": {
"x": {"field": "x", "type": "quantitative", "scale": {"domain": [-10000, 1150], "range": [149, 457], "nice": false, "zero": false}, "axis": null},
"y": {"field": "y", "type": "quantitative", "scale": {"domain": [-0.5, 1.5], "range": [322, 18], "nice": false, "zero": false}, "axis": null},
"text": {"field": "label"}
}
}
]
}
